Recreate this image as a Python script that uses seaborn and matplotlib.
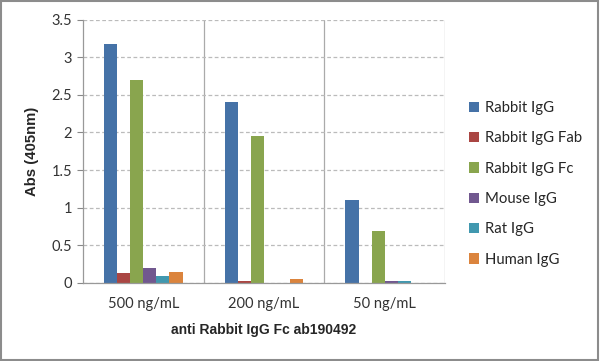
import matplotlib
matplotlib.use("Agg")
import matplotlib.pyplot as plt
import seaborn as sns
import pandas as pd
from matplotlib.patches import Rectangle, Patch

concentrations = ["500 ng/mL", "200 ng/mL", "50 ng/mL"]
series = ["Rabbit IgG", "Rabbit IgG Fab", "Rabbit IgG Fc", "Mouse IgG", "Rat IgG", "Human IgG"]
rabbit_igg = [3.18, 2.40, 1.10]
rabbit_igg_fab = [0.13, 0.03, 0.0]
rabbit_igg_fc = [2.70, 1.95, 0.69]
mouse_igg = [0.20, 0.0, 0.03]
rat_igg = [0.09, 0.0, 0.03]
human_igg = [0.15, 0.055, 0.0]
colors = ["#4572A7", "#AA4643", "#89A54E", "#71588F", "#4198AF", "#DB843D"]
yticks = [0, 0.5, 1, 1.5, 2, 2.5, 3, 3.5]
ytick_labels = ["0", "0.5", "1", "1.5", "2", "2.5", "3", "3.5"]

values = [rabbit_igg, rabbit_igg_fab, rabbit_igg_fc, mouse_igg, rat_igg, human_igg]
rows = []
for s, vals in zip(series, values):
    for c, v in zip(concentrations, vals):
        rows.append({"conc": c, "series": s, "abs": v})
df = pd.DataFrame(rows)

sns.set_style("white")
plt.rcParams["font.family"] = ["Lato", "DejaVu Sans"]

fig = plt.figure(figsize=(6.0, 3.61), dpi=100)
ax = fig.add_axes([83/600, 1 - 283/361, (445-83)/600, (283-19.5)/361])

sns.barplot(data=df, x="conc", y="abs", hue="series", order=concentrations,
            hue_order=series, palette=colors, width=0.65, ax=ax,
            legend=False, saturation=1, edgecolor="none", linewidth=0)

ax.set_ylim(0, 3.5)
ax.set_xlim(-0.5, 2.5)
ax.set_yticks(yticks)
ax.set_yticklabels(ytick_labels, fontsize=10.5, color="#333333")
ax.tick_params(axis="y", length=4, color="#888888", width=0.8, pad=4, left=True)
ax.tick_params(axis="x", length=0, pad=10, labelsize=10.5, labelcolor="#333333")
ax.yaxis.grid(True, linestyle=(0, (3, 2)), color="#bbbbbb", linewidth=0.9)
ax.set_axisbelow(True)
for xb in [0.5, 1.5, 2.5]:
    ax.axvline(xb, color="#aaaaaa", linewidth=0.9, zorder=0.5)
ax.spines["top"].set_visible(False)
ax.spines["right"].set_visible(False)
ax.spines["left"].set_color("#999999")
ax.spines["bottom"].set_color("#999999")
ax.spines["left"].set_linewidth(0.9)
ax.spines["bottom"].set_linewidth(0.9)

ax.set_xlabel("anti Rabbit IgG Fc ab190492", fontsize=10, fontweight="bold",
              family=["Liberation Sans", "DejaVu Sans"], labelpad=9)
ax.set_ylabel("Abs (405nm)", fontsize=10.7, fontweight="bold",
              family=["Liberation Sans", "DejaVu Sans"], labelpad=9)

handles = [Patch(facecolor=c, edgecolor="none") for c in colors]
fig.legend(handles, series, loc="upper left", bbox_to_anchor=(463/600, 1 - 95/361),
           frameon=False, fontsize=10.7, handlelength=0.7, handleheight=0.7,
           handletextpad=0.4, labelspacing=1.1, borderaxespad=0)

fig.patches.append(Rectangle((0.002, 0.003), 0.995, 0.994, transform=fig.transFigure,
                             fill=False, edgecolor="#8c8c8c", linewidth=1.5))

fig.savefig("out.png", dpi=100)
